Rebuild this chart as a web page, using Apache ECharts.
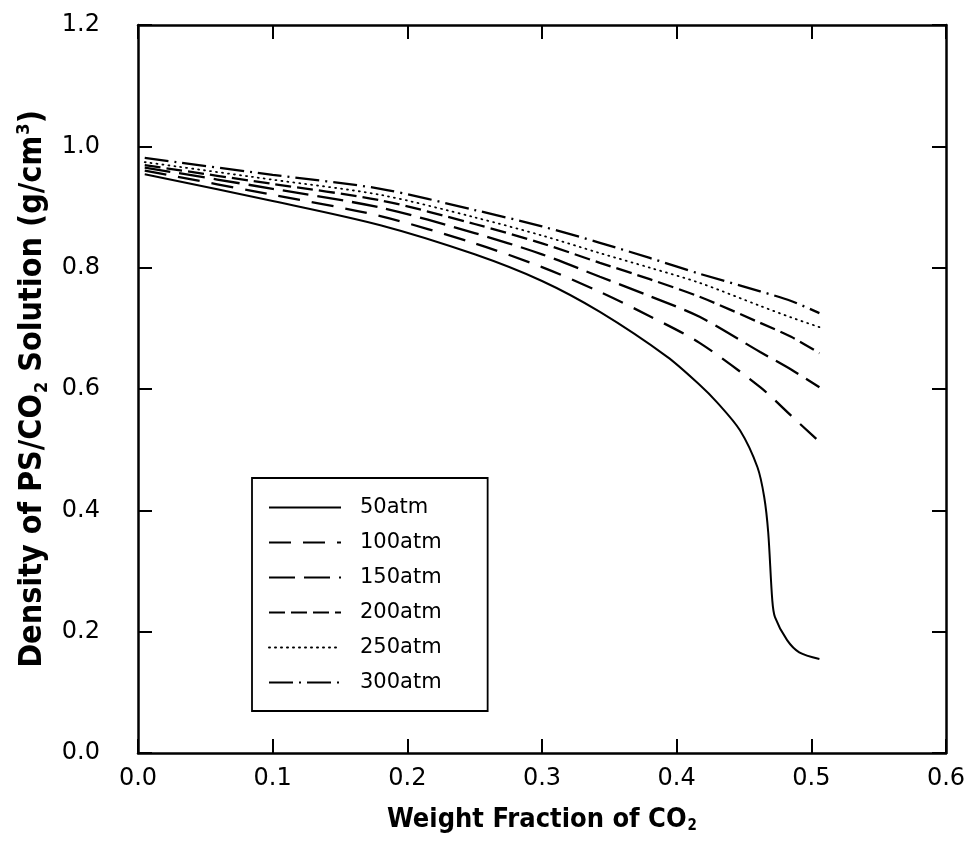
<!DOCTYPE html>
<html>
<head>
<meta charset="utf-8">
<script src="https://cdn.jsdelivr.net/npm/echarts@6/dist/echarts.min.js"></script>
<style>
  html, body { margin: 0; padding: 0; background: #fff; }
  #chart { width: 974px; height: 859px; }
</style>
</head>
<body>
<div id="chart"></div>
<script>
// Density of PS/CO2 solution vs. CO2 weight fraction at several pressures
const pressures = ['50atm', '100atm', '150atm', '200atm', '250atm', '300atm'];

// 50 atm curve (own sampling to follow the sharp drop)
const wf50 = [0.005, 0.1, 0.18, 0.25, 0.3, 0.343, 0.393, 0.417, 0.430, 0.447, 0.460, 0.465, 0.468, 0.471, 0.473, 0.482, 0.491, 0.506];
const rho50 = [0.954, 0.910, 0.870, 0.822, 0.778, 0.727, 0.653, 0.607, 0.578, 0.532, 0.471, 0.422, 0.363, 0.252, 0.224, 0.186, 0.166, 0.155];

// shared sampling for the higher pressures
const wf = [0.005, 0.1, 0.18, 0.25, 0.3, 0.343, 0.38, 0.417, 0.462, 0.485, 0.506];
const rho100 = [0.960, 0.920, 0.885, 0.840, 0.801, 0.760, 0.720, 0.676, 0.603, 0.556, 0.513];
const rho150 = [0.965, 0.930, 0.899, 0.857, 0.822, 0.785, 0.753, 0.719, 0.661, 0.632, 0.603];
const rho200 = [0.969, 0.938, 0.911, 0.872, 0.840, 0.808, 0.781, 0.752, 0.709, 0.686, 0.659];
const rho250 = [0.974, 0.945, 0.920, 0.883, 0.853, 0.824, 0.800, 0.775, 0.737, 0.718, 0.702];
const rho300 = [0.981, 0.953, 0.930, 0.895, 0.868, 0.841, 0.816, 0.790, 0.761, 0.745, 0.725];

const xMin = 0, xMax = 0.6, xStep = 0.1;
const yMin = 0, yMax = 1.2, yStep = 0.2;

const pairs = (xs, ys) => xs.map((x, i) => [x, ys[i]]);

const dashStyles = [
  { type: 'solid', width: 2 },
  { type: [22, 12], width: 2.3 },
  { type: [26, 9], width: 2.3 },
  { type: [16, 6], width: 2.3 },
  { type: [1, 5], width: 1.8, cap: 'round' },
  { type: [24, 6, 2, 6], width: 2.3 }
];

const curves = [
  pairs(wf50, rho50),
  pairs(wf, rho100),
  pairs(wf, rho150),
  pairs(wf, rho200),
  pairs(wf, rho250),
  pairs(wf, rho300)
];

const titleFont = '"DejaVu Sans Condensed", "Liberation Sans Narrow", "DejaVu Sans", sans-serif';
const tickFont = '"DejaVu Sans", "Liberation Sans", sans-serif';

const axisCommon = {
  type: 'value',
  axisLine: { show: true, onZero: false, lineStyle: { color: '#000', width: 2.5 } },
  axisTick: { show: true, inside: true, length: 14, lineStyle: { color: '#000', width: 2 } },
  splitLine: { show: false },
  minorTick: { show: false }
};

const chart = echarts.init(document.getElementById('chart'), null, { renderer: 'canvas' });

chart.setOption({
  animation: false,
  backgroundColor: '#fff',
  grid: { left: 138, right: 28, top: 25, bottom: 106, containLabel: false },
  xAxis: [
    Object.assign({}, axisCommon, {
      position: 'bottom',
      min: xMin, max: xMax, interval: xStep,
      axisLabel: {
        margin: 14, fontSize: 24, color: '#000', fontFamily: tickFont,
        formatter: v => v.toFixed(1)
      },
      name: 'Weight Fraction of CO{sub|2}',
      nameLocation: 'middle',
      nameGap: 52,
      nameTextStyle: {
        fontSize: 27, fontWeight: 'bold', color: '#000', fontFamily: titleFont,
        rich: {
          sub: { fontSize: 15, fontWeight: 'bold', fontFamily: titleFont, color: '#000', verticalAlign: 'bottom', padding: [14, 0, 0, 1] }
        }
      }
    }),
    Object.assign({}, axisCommon, {
      position: 'top',
      min: xMin, max: xMax, interval: xStep,
      axisLabel: { show: false }
    })
  ],
  yAxis: [
    Object.assign({}, axisCommon, {
      position: 'left',
      min: yMin, max: yMax, interval: yStep,
      axisLabel: {
        margin: 38, fontSize: 24, color: '#000', fontFamily: tickFont,
        formatter: v => v.toFixed(1)
      },
      name: 'Density of PS/CO{sub|2} Solution (g/cm{sup|3})',
      nameLocation: 'middle',
      nameRotate: 90,
      nameGap: 86,
      nameTextStyle: {
        fontSize: 32, fontWeight: 'bold', color: '#000', fontFamily: titleFont,
        rich: {
          sub: { fontSize: 18, fontWeight: 'bold', fontFamily: titleFont, color: '#000', verticalAlign: 'bottom', padding: [18, 0, 0, 1] },
          sup: { fontSize: 18, fontWeight: 'bold', fontFamily: titleFont, color: '#000', verticalAlign: 'top', padding: [0, 0, 16, 1] }
        }
      }
    }),
    Object.assign({}, axisCommon, {
      position: 'right',
      min: yMin, max: yMax, interval: yStep,
      axisLabel: { show: false }
    })
  ],
  legend: {
    orient: 'vertical',
    left: 252,
    top: 478,
    data: pressures,
    itemWidth: 72,
    itemHeight: 14,
    itemGap: 14,
    padding: [19, 46, 18, 16],
    borderColor: '#000',
    borderWidth: 1.8,
    backgroundColor: '#fff',
    itemStyle: { opacity: 0 },
    textStyle: { fontSize: 21, color: '#000', fontFamily: tickFont, padding: [0, 0, 0, 14], lineHeight: 21 }
  },
  series: pressures.map((name, i) => ({
    name: name,
    type: 'line',
    data: curves[i],
    symbol: 'none',
    showSymbol: false,
    smooth: 0.3,
    color: '#000',
    lineStyle: Object.assign({ color: '#000' }, dashStyles[i]),
    z: 3
  }))
});
</script>
</body>
</html>
